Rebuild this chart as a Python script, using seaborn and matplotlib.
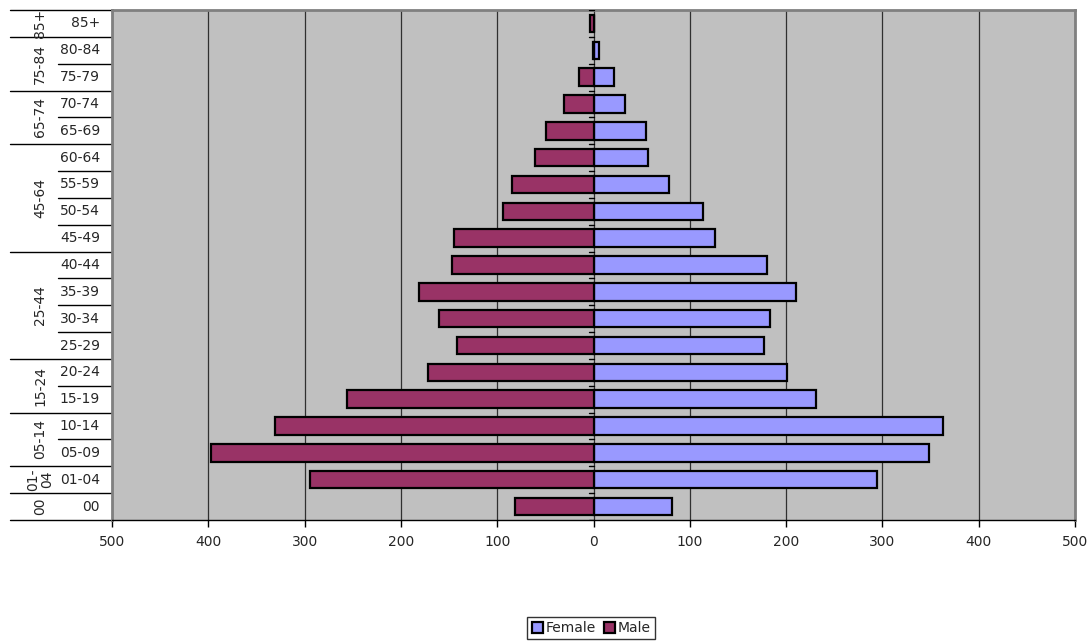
"""
Population pyramid (Excel style) with grouped age labels
"""

import pandas as pd
import numpy as np
import matplotlib
matplotlib.use('Agg')
import matplotlib.pyplot as plt
from matplotlib.ticker import FuncFormatter
import seaborn as sns

sns.set_style("white")
plt.rcParams['font.family'] = ['DejaVu Sans']

# data
ages = ['00', '01-04', '05-09', '10-14', '15-19', '20-24', '25-29', '30-34',
        '35-39', '40-44', '45-49', '50-54', '55-59', '60-64', '65-69',
        '70-74', '75-79', '80-84', '85+']
female = [81, 294, 348, 363, 231, 201, 177, 183, 210, 180, 126, 114, 78, 57, 54, 33, 21, 6, 1]
male = [81, 294, 397, 331, 256, 172, 142, 160, 181, 147, 145, 94, 85, 61, 49, 31, 15, 1, 4]

group_labels = ['00', '01-\n04', '05-14', '15-24', '25-44', '45-64', '65-74', '75-84', '85+']
group_sizes = [1, 1, 2, 2, 4, 4, 2, 2, 1]

x_ticks = list(range(-500, 501, 100))

df = pd.DataFrame({
    'age': ages * 2,
    'sex': ['Female'] * len(ages) + ['Male'] * len(ages),
    'value': female + [-v for v in male],
})

order = ages[::-1]  # 85+ on top

fig = plt.figure(figsize=(10.91, 6.41), dpi=100)
ax = fig.add_axes([112 / 1091, 121 / 641, 963 / 1091, 510 / 641])
ax.set_facecolor('#C0C0C0')

sns.barplot(data=df, y='age', x='value', hue='sex', order=order,
            hue_order=['Female', 'Male'], dodge=False, width=0.65, saturation=1,
            palette={'Female': '#9999FF', 'Male': '#993366'},
            edgecolor='black', linewidth=1.6, ax=ax, zorder=3)

ax.set_xlim(-500, 500)
ax.set_ylim(len(ages) - 0.5, -0.5)
ax.set_xticks(x_ticks)
ax.xaxis.set_major_formatter(FuncFormatter(lambda v, p: f'{abs(v):.0f}'))
ax.tick_params(axis='x', direction='out', length=5, width=1, color='black',
               labelsize=10, pad=6, bottom=True)
ax.set_yticks([])
ax.set_xlabel('')
ax.set_ylabel('')

ax.grid(True, axis='x', color='#303030', linewidth=0.9, zorder=0)
ax.set_axisbelow(True)

for side in ['top', 'right', 'left']:
    ax.spines[side].set_color('#808080')
    ax.spines[side].set_linewidth(2)
ax.spines['bottom'].set_color('black')
ax.spines['bottom'].set_linewidth(1)

# small ticks on the zero line at category boundaries
for i in range(len(ages) + 1):
    ax.plot([-5, 0], [i - 0.5, i - 0.5], color='black', lw=1, zorder=4)

# two-level category labels
trans = ax.get_yaxis_transform()
px = 1 / 963
for i, lab in enumerate(order):
    ax.text(-12 * px, i, lab, transform=trans, ha='right', va='center', fontsize=10)

pos = 0
ax.plot([-102 * px, 0], [-0.5, -0.5], transform=trans, color='black', lw=1, clip_on=False)
for glab, size in zip(group_labels[::-1], group_sizes[::-1]):
    center = pos + (size - 1) / 2
    ax.text(-72 * px, center, glab, transform=trans, ha='center', va='center',
            rotation=90, fontsize=10, linespacing=1.0)
    for k in range(1, size):
        ax.plot([-54 * px, 0], [pos + k - 0.5, pos + k - 0.5], transform=trans,
                color='black', lw=1, clip_on=False)
    pos += size
    ax.plot([-102 * px, 0], [pos - 0.5, pos - 0.5], transform=trans,
            color='black', lw=1, clip_on=False)

# legend
handles, labels = ax.get_legend_handles_labels()
if ax.legend_:
    ax.legend_.remove()
leg = fig.legend(handles, labels, loc='center', bbox_to_anchor=(0.542, 0.02), ncol=2,
                 frameon=True, fancybox=False, edgecolor='black', fontsize=10,
                 handlelength=0.8, handleheight=0.8, handletextpad=0.2,
                 columnspacing=0.6, borderpad=0.3)
leg.get_frame().set_linewidth(1)

plt.savefig('out.png', dpi=100)
plt.close()
